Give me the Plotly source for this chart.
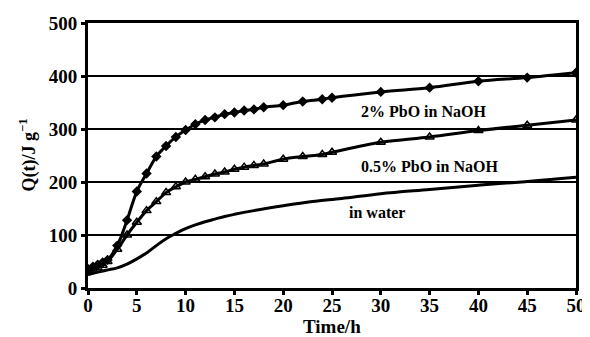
import plotly.graph_objects as go

# 2% PbO in NaOH (diamonds)
t_2pct = [0, 0.5, 1, 1.5, 2, 3, 4, 5, 6, 7, 8, 9, 10, 11, 12, 13, 14, 15, 16, 17, 18, 20, 22, 24, 25, 30, 35, 40, 45, 50]
q_2pct = [36, 40, 44, 48, 53, 80, 128, 182, 216, 248, 268, 285, 298, 309, 317, 322, 328, 331, 335, 337, 341, 345, 352, 356, 359, 370, 378, 390, 397, 406]

# 0.5% PbO in NaOH (triangles)
t_05pct = [0, 0.5, 1, 1.5, 2, 3, 4, 5, 6, 7, 8, 9, 10, 11, 12, 13, 14, 15, 16, 17, 18, 20, 22, 24, 25, 30, 35, 40, 45, 50]
q_05pct = [30, 34, 38, 43, 50, 73, 100, 124, 146, 163, 180, 191, 200, 205, 210, 215, 219, 224, 228, 231, 234, 243, 248, 252, 256, 275, 285, 297, 307, 317]

# in water (line only)
t_water = [0, 1, 2, 3, 4, 5, 6, 7, 8, 9, 10, 11, 12, 13, 14, 15, 17, 20, 23, 26, 30, 35, 40, 45, 50]
q_water = [25, 30, 34, 38, 45, 55, 66, 80, 93, 103, 112, 119, 125, 130, 135, 139, 146, 155, 163, 169, 178, 186, 194, 201, 209]

labels = ["2% PbO in NaOH", "0.5% PbO in NaOH", "in water"]
label_pos_t = [34.4, 35.0, 29.6]
label_pos_q = [333, 230, 143]

x_ticks = list(range(0, 51, 5))
y_ticks = list(range(0, 501, 100))
x_title = "Time/h"
y_title = "Q(t)/J g<sup>−1</sup>"

serif = "Liberation Serif, Times New Roman, serif"

fig = go.Figure()
fig.add_trace(go.Scatter(x=t_water, y=q_water, mode="lines", line=dict(color="black", width=3, shape="spline"), showlegend=False))
fig.add_trace(go.Scatter(x=t_05pct, y=q_05pct, mode="lines+markers", line=dict(color="black", width=3, shape="spline"),
                         marker=dict(symbol="triangle-up-open", size=8, color="black", line=dict(width=1.5)), showlegend=False))
fig.add_trace(go.Scatter(x=t_2pct, y=q_2pct, mode="lines+markers", line=dict(color="black", width=3, shape="spline"),
                         marker=dict(symbol="diamond", size=8, color="black"), showlegend=False))

for txt, tx, ty in zip(labels, label_pos_t, label_pos_q):
    fig.add_annotation(x=tx, y=ty, text="<b>" + txt + "</b>", showarrow=False,
                       font=dict(family=serif, size=16, color="black"))

# axis titles
fig.add_annotation(x=0.5, y=0, xref="paper", yref="paper", yanchor="middle", yshift=-38,
                   text="<b>" + x_title + "</b>", showarrow=False,
                   font=dict(family=serif, size=19, color="black"))
fig.add_annotation(x=0, y=0.5, xref="paper", yref="paper", xanchor="center", xshift=-60,
                   text="<b>" + y_title + "</b>", textangle=-90, showarrow=False,
                   font=dict(family=serif, size=18, color="black"))

# page body has an 8px margin; figure is sized to fit the 590x337 window
fig.update_layout(
    width=582, height=329,
    margin=dict(l=80, r=14, t=15, b=49),
    paper_bgcolor="white", plot_bgcolor="white",
    font=dict(family=serif, color="black"),
)
fig.update_xaxes(range=[0, 50], tickvals=x_ticks, ticktext=["<b>%d</b>" % v for v in x_ticks],
                 showgrid=False, zeroline=False, automargin=False,
                 showline=True, linecolor="black", linewidth=3, mirror=True,
                 ticks="outside", ticklen=4, tickwidth=3, tickcolor="black", ticklabelstandoff=-6,
                 tickfont=dict(family=serif, size=19))
fig.update_yaxes(range=[0, 500], tickvals=y_ticks, ticktext=["<b>%d</b>" % v for v in y_ticks],
                 showgrid=True, gridcolor="black", gridwidth=2, zeroline=False, automargin=False,
                 showline=True, linecolor="black", linewidth=3, mirror=True,
                 ticks="outside", ticklen=4, tickwidth=3, tickcolor="black",
                 tickfont=dict(family=serif, size=19))

fig.write_html("out.html")
